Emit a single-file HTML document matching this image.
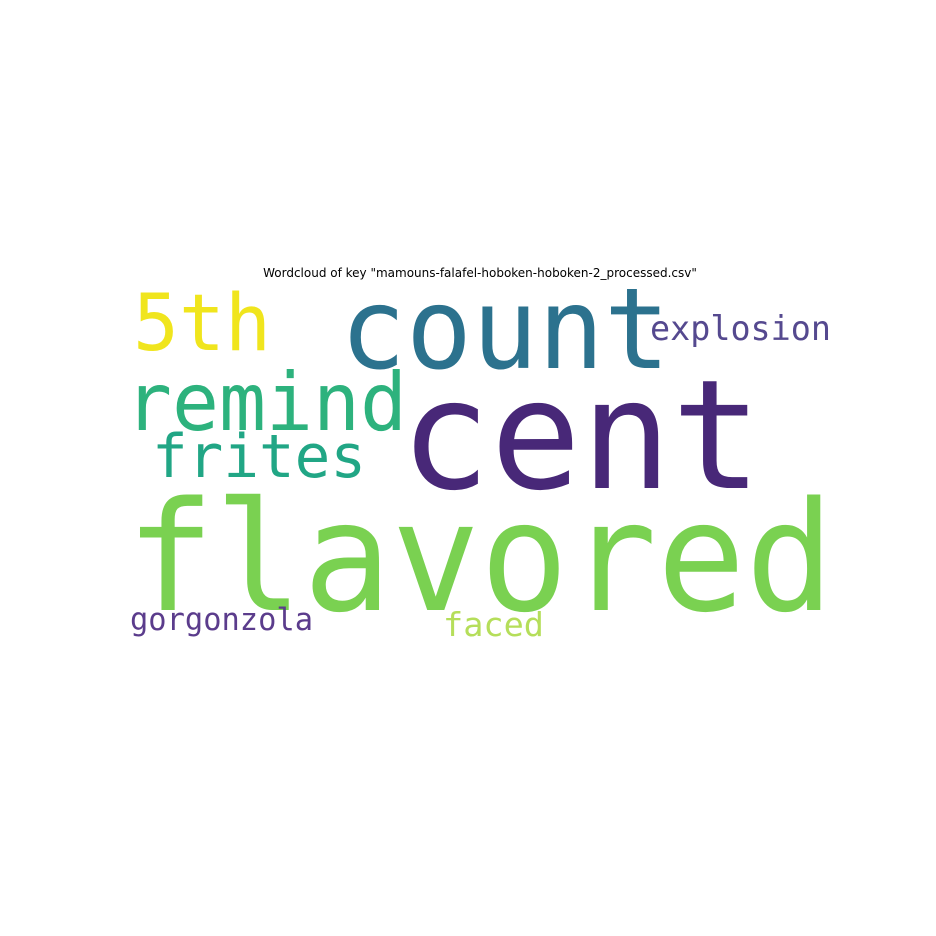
<!DOCTYPE html>
<html>
<head>
<meta charset="utf-8">
<style>
  html,body{margin:0;padding:0;background:#fff;}
  svg{display:block;}
  .w{font-family:"DejaVu Sans Mono","Liberation Mono",monospace;}
</style>
</head>
<body>
<svg id="chart" width="936" height="936" viewBox="0 0 936 936" xmlns="http://www.w3.org/2000/svg">
  <rect width="936" height="936" fill="#fff"/>
  <text x="480" y="277" text-anchor="middle" font-family="DejaVu Sans, Liberation Sans, sans-serif" font-size="12" fill="#000">Wordcloud of key "mamouns-falafel-hoboken-hoboken-2_processed.csv"</text>
  <g id="words"></g>
</svg>
<script>
const words = ["flavored","cent","count","5th","remind","frites","explosion","gorgonzola","faced"];
const sizes = [152,152,112,78,80,60,34,31,33];
const colors = ["#7ad151","#482878","#2c728e","#f0e51d","#2db27d","#21a685","#55498f","#5b3c8c","#b5de5a"];
const xs = [126,400,340,133,125,152,650,130,443];
const ys = [610,488,368,350,430,477,340,630,636];
const ws = [708,362,330,138,282,214,181,183,101];
const g = document.getElementById('words');
for (let i = 0; i < words.length; i++) {
  const t = document.createElementNS('http://www.w3.org/2000/svg','text');
  t.setAttribute('x', xs[i]);
  t.setAttribute('y', ys[i]);
  t.setAttribute('font-size', sizes[i]);
  t.setAttribute('fill', colors[i]);
  t.setAttribute('class','w');
  t.setAttribute('textLength', ws[i]);
  t.setAttribute('lengthAdjust','spacingAndGlyphs');
  t.textContent = words[i];
  
  
  g.appendChild(t);
}
</script>
</body>
</html>
